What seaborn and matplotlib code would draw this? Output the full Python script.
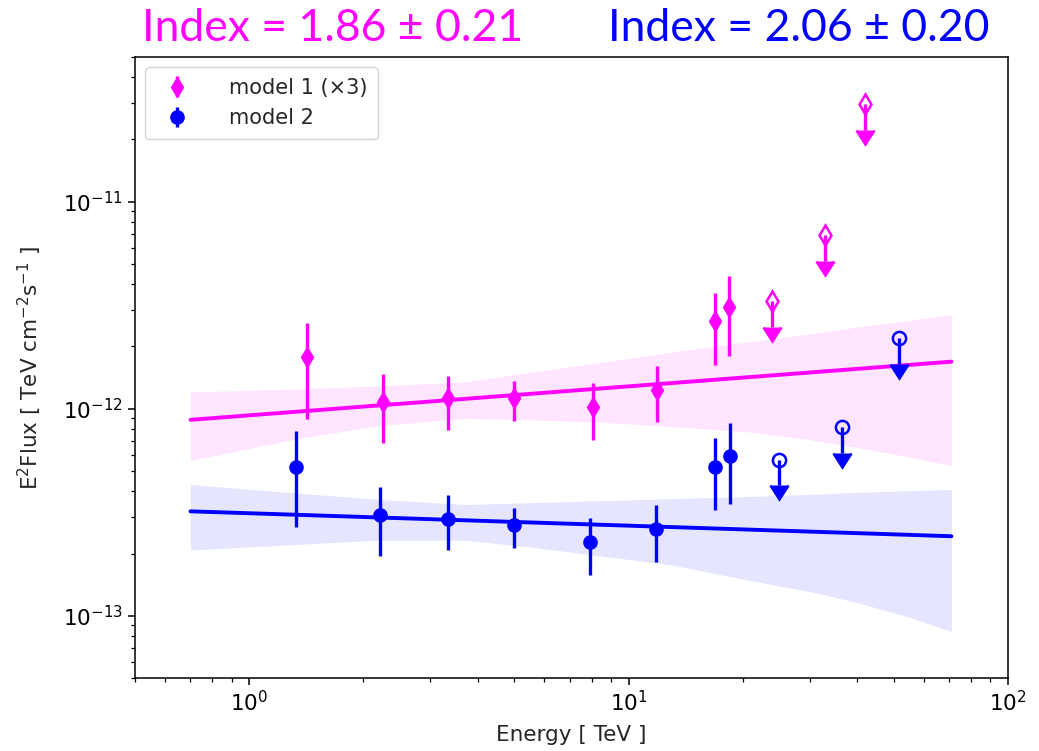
import numpy as np
import pandas as pd
import matplotlib
matplotlib.use("Agg")
import matplotlib.pyplot as plt
import seaborn as sns

# ---- flux points, model 1 (scaled x3) ----
e1 = [1.42, 2.25, 3.34, 4.99, 8.08, 11.9, 16.9, 18.4]
f1 = [1.78e-12, 1.08e-12, 1.13e-12, 1.13e-12, 1.02e-12, 1.23e-12, 2.65e-12, 3.09e-12]
f1_hi = [2.59e-12, 1.47e-12, 1.44e-12, 1.36e-12, 1.33e-12, 1.61e-12, 3.61e-12, 4.40e-12]
f1_lo = [0.895e-12, 0.686e-12, 0.79e-12, 0.875e-12, 0.71e-12, 0.866e-12, 1.63e-12, 1.80e-12]
e1_ul = [23.9, 33.0, 41.9]
f1_ul = [3.3e-12, 6.9e-12, 2.96e-11]

# ---- flux points, model 2 ----
e2 = [1.33, 2.21, 3.34, 4.99, 7.93, 11.8, 16.9, 18.5]
f2 = [0.526e-12, 0.306e-12, 0.293e-12, 0.274e-12, 0.227e-12, 0.262e-12, 0.526e-12, 0.594e-12]
f2_hi = [0.784e-12, 0.417e-12, 0.382e-12, 0.33e-12, 0.296e-12, 0.342e-12, 0.725e-12, 0.856e-12]
f2_lo = [0.268e-12, 0.194e-12, 0.208e-12, 0.212e-12, 0.158e-12, 0.182e-12, 0.323e-12, 0.346e-12]
e2_ul = [24.9, 36.6, 51.8]
f2_ul = [0.569e-12, 0.819e-12, 2.19e-12]

# ---- best-fit power laws (E^2 dN/dE normalisation at 1 TeV) ----
index1, index1_err = 1.86, 0.21
index2, index2_err = 2.06, 0.20
norm1 = 0.93e-12
norm2 = 0.313e-12
fit_range = [0.7, 71.0]

# ---- 1-sigma butterfly envelopes ----
band_e = [0.7, 1.38, 2.2, 3.7, 5.5, 8.96, 13.0, 20.5, 30.0, 40.0, 55.0, 71.0]
band1_up = [1.207e-12, 1.248e-12, 1.29e-12, 1.348e-12, 1.50e-12, 1.70e-12, 1.88e-12,
            2.10e-12, 2.30e-12, 2.48e-12, 2.67e-12, 2.86e-12]
band1_lo = [0.562e-12, 0.725e-12, 0.829e-12, 0.90e-12, 0.885e-12, 0.856e-12, 0.82e-12,
            0.775e-12, 0.71e-12, 0.65e-12, 0.585e-12, 0.532e-12]
band2_up = [0.431e-12, 0.390e-12, 0.365e-12, 0.345e-12, 0.352e-12, 0.361e-12, 0.368e-12,
            0.377e-12, 0.386e-12, 0.395e-12, 0.402e-12, 0.408e-12]
band2_lo = [0.208e-12, 0.222e-12, 0.232e-12, 0.232e-12, 0.215e-12, 0.192e-12, 0.176e-12,
            0.149e-12, 0.131e-12, 0.116e-12, 0.0985e-12, 0.0838e-12]

# axis decades
x_ticks = [1, 10, 100]
y_ticks = [1e-13, 1e-12, 1e-11]

MAG = "#ff00ff"
BLU = "#0000ff"

sns.set_theme(style="ticks")
plt.rcParams.update({
    "font.family": ["DejaVu Sans"],
    "axes.linewidth": 1.1,
    "xtick.major.size": 5, "ytick.major.size": 5,
    "xtick.minor.size": 2.8, "ytick.minor.size": 2.8,
    "xtick.major.width": 1.1, "ytick.major.width": 1.1,
    "xtick.minor.width": 0.9, "ytick.minor.width": 0.9,
    "xtick.labelsize": 15.5, "ytick.labelsize": 15.5,
    "axes.labelsize": 15.5, "legend.fontsize": 15,
    "axes.edgecolor": "black",
    "xtick.color": "black", "ytick.color": "black",
})

fig = plt.figure(figsize=(10.39, 7.51), dpi=100)
ax = fig.add_axes([0.130, 0.097, 0.840, 0.827])
ax.set_xscale("log")
ax.set_yscale("log")

# butterflies
ax.fill_between(band_e, band1_lo, band1_up, color=MAG, alpha=0.1, lw=0)
ax.fill_between(band_e, band2_lo, band2_up, color=BLU, alpha=0.1, lw=0)

# best-fit lines
e_fit = np.array(fit_range)
model_df = pd.DataFrame({
    "E": np.concatenate([e_fit, e_fit]),
    "F": np.concatenate([norm1 * e_fit ** (2 - index1), norm2 * e_fit ** (2 - index2)]),
    "model": ["m1", "m1", "m2", "m2"],
})
sns.lineplot(data=model_df, x="E", y="F", hue="model", palette=[MAG, BLU],
             lw=2.8, ax=ax, legend=False)


def points(e, f, lo, hi, fmt, color, label, ms):
    f = np.array(f)
    yerr = [f - np.array(lo), np.array(hi) - f]
    return ax.errorbar(e, f, yerr=yerr, fmt=fmt, color=color, ms=ms,
                       elinewidth=2.4, capsize=0, label=label, zorder=5)


def limits(e, f, marker, color, ms):
    f = np.array(f)
    cont = ax.errorbar(e, f, yerr=0.25 * f, uplims=True, fmt=marker, color=color,
                       mfc="none", mec=color, mew=1.8, ms=ms, elinewidth=2.4,
                       capsize=6.5, zorder=5)
    # keep only the downward arrow heads, no flat caps at the marker
    for cap in cont.lines[1]:
        if cap.get_marker() in ("_", "|"):
            cap.set_visible(False)


h1 = points(e1, f1, f1_lo, f1_hi, "d", MAG, "model 1 (×3)", 10)
h2 = points(e2, f2, f2_lo, f2_hi, "o", BLU, "model 2", 9.5)
limits(e1_ul, f1_ul, "d", MAG, 10)
limits(e2_ul, f2_ul, "o", BLU, 9.5)

ax.set_xticks(x_ticks)
ax.set_yticks(y_ticks)
ax.set_xlim(0.5, 100)
ax.set_ylim(5e-14, 5e-11)
ax.set_xlabel("Energy [ TeV ]", labelpad=7)
ax.set_ylabel(r"E$^2$Flux [ TeV cm$^{-2}$s$^{-1}$ ]", labelpad=14)
ax.tick_params(which="both", top=False, right=False, direction="out")

ax.legend(handles=[h1, h2], loc="upper left", frameon=True, borderpad=0.5,
          handletextpad=1.5, handlelength=2.0, edgecolor="#cccccc")

fig.text(0.320, 0.962, f"Index = {index1:.2f} ± {index1_err:.2f}", color=MAG,
         fontsize=32, family=["Lato", "DejaVu Sans"], ha="center", va="center")
fig.text(0.769, 0.962, f"Index = {index2:.2f} ± {index2_err:.2f}", color=BLU,
         fontsize=32, family=["Lato", "DejaVu Sans"], ha="center", va="center")

fig.savefig("out.png", dpi=100)
